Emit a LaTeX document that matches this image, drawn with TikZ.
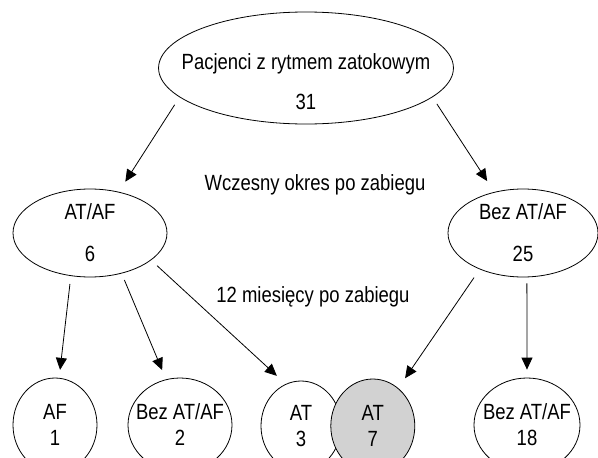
\documentclass[tikz,border=0pt]{standalone}
\usepackage{fontspec}
\setmainfont{Liberation Sans}[FakeStretch=0.84]
\usetikzlibrary{shapes.geometric,arrows.meta,positioning}

\begin{document}
\begin{tikzpicture}[x=1pt, y=-1pt, >={Triangle[length=12pt,width=11pt]}, line width=0.8pt,
    cohort/.style={ellipse, draw, inner sep=-20pt, align=center, font=\fontsize{22}{26}\selectfont},
    result/.style={cohort, minimum width=84pt, minimum height=94pt},
    period/.style={anchor=base, font=\fontsize{22}{26}\selectfont}]
    \clip (0,0) rectangle (598,458);

    \node[cohort, minimum width=284pt, minimum height=112pt] (all)  at (306,68)  {\rule{0pt}{44pt}Pacjenci z rytmem zatokowym\\[14pt]31};
    \node[cohort, minimum width=154pt, minimum height=88pt]  (af)   at (90,233)  {AT/AF\\[16pt]6};
    \node[cohort, minimum width=150pt, minimum height=88pt]  (noaf) at (523,233) {Bez AT/AF\\[16pt]25};

    \node[result]                              (af1)    at (55,425)  {AF\\1};
    \node[result, minimum width=104pt]         (noaf2)  at (180,425) {Bez AT/AF\\2};
    \node[result, minimum width=80pt, minimum height=90pt] (at3) at (301,426) {AT\\3};
    \node[result, fill=gray!35]                (at7)    [right=-11pt of at3] {AT\\7};
    \node[result, minimum width=106pt]         (noaf18) at (527,425) {Bez AT/AF\\18};

    \node[period] (early) at (315,190) {Wczesny okres po zabiegu};
    \node[period] (late)  at (313,302) {12 miesięcy po zabiegu};

    \path[->] (all.193)  edge[shorten <=9pt, shorten >=12pt]  (af.55)
              (all.347)  edge[shorten <=8pt, shorten >=13pt]  (noaf.125)
              (af.246)   edge[shorten <=8pt, shorten >=8pt]   (af1.85)
              (af.308)   edge[shorten <=7pt, shorten >=10pt]  (noaf2.107)
              (af.336)   edge[shorten <=8pt, shorten >=12pt]  (at3.110)
              (noaf.220) edge[shorten <=10pt, shorten >=12pt] (at7.56)
              (noaf.275) edge[shorten <=6pt, shorten >=8pt]   (noaf18.north);
\end{tikzpicture}
\end{document}
